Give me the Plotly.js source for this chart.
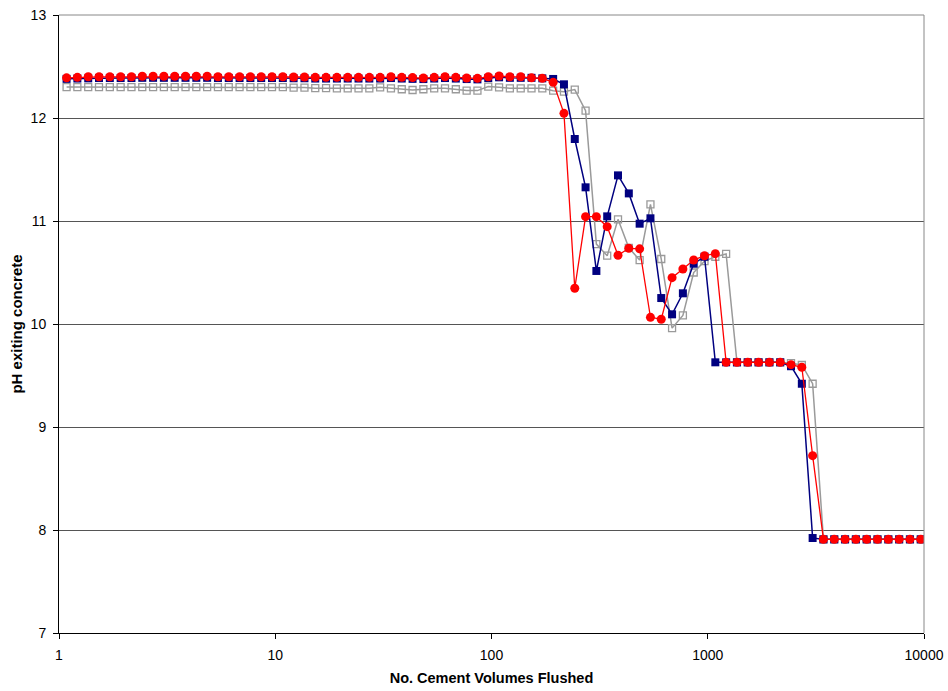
<!DOCTYPE html>
<html>
<head>
<meta charset="utf-8">
<script src="https://cdn.plot.ly/plotly-3.0.1.min.js"></script>
<style>html,body{margin:0;padding:0;background:#fff;}#chart{width:948px;height:691px;}</style>
</head>
<body>
<div id="chart"></div>
<script>
// Cement volumes flushed (x, log-spaced)
const volumes = [1.084,1.216,1.365,1.531,1.718,1.928,2.163,2.427,2.723,3.055,
  3.428,3.846,4.315,4.842,5.433,6.095,6.839,7.674,8.610,9.661,
  10.84,12.16,13.65,15.31,17.18,19.28,21.63,24.27,27.23,30.55,
  34.28,38.46,43.15,48.42,54.33,60.95,68.39,76.74,86.10,96.61,
  108.4,121.6,136.5,153.1,171.8,192.8,216.3,242.7,272.3,305.5,
  342.8,384.6,431.5,484.2,543.3,609.5,683.9,767.4,861.0,966.1,
  1084,1216,1365,1531,1718,1928,2163,2427,2723,3055,
  3428,3846,4315,4842,5433,6095,6839,7674,8610,9661];

// Series 1 (navy filled squares)
const phNavy = [12.38,12.383,12.385,12.388,12.388,12.388,12.388,12.39,12.39,12.39,
  12.39,12.39,12.39,12.39,12.388,12.388,12.388,12.388,12.388,12.388,
  12.388,12.386,12.386,12.383,12.383,12.383,12.383,12.383,12.383,12.383,
  12.388,12.383,12.38,12.378,12.383,12.388,12.383,12.378,12.375,12.388,
  12.395,12.39,12.39,12.39,12.385,12.379,12.327,11.796,11.327,10.515,
  11.045,11.443,11.268,10.974,11.026,10.252,10.094,10.298,10.585,10.653,
  9.628,9.628,9.628,9.628,9.628,9.628,9.628,9.59,9.42,7.922,
  7.909,7.909,7.909,7.909,7.909,7.909,7.909,7.909,7.909,7.909];

// Series 2 (red circles)
const phRed = [12.39,12.395,12.40,12.40,12.40,12.40,12.40,12.405,12.405,12.405,
  12.405,12.405,12.405,12.405,12.40,12.40,12.40,12.40,12.40,12.40,
  12.40,12.398,12.398,12.395,12.395,12.395,12.395,12.395,12.395,12.395,
  12.40,12.395,12.392,12.388,12.395,12.40,12.395,12.388,12.385,12.40,
  12.408,12.40,12.40,12.39,12.385,12.346,12.045,10.347,11.042,11.042,
  10.945,10.667,10.735,10.73,10.065,10.046,10.45,10.534,10.621,10.663,
  10.683,9.628,9.628,9.628,9.628,9.628,9.628,9.605,9.58,8.722,
  7.909,7.909,7.909,7.909,7.909,7.909,7.909,7.909,7.909,7.909];

// Series 3 (grey open squares)
const phGrey = [12.30,12.30,12.30,12.30,12.30,12.30,12.30,12.30,12.30,12.30,
  12.30,12.30,12.30,12.30,12.30,12.30,12.30,12.30,12.30,12.30,
  12.30,12.295,12.295,12.29,12.29,12.288,12.288,12.288,12.288,12.298,
  12.288,12.279,12.272,12.279,12.288,12.288,12.279,12.266,12.266,12.305,
  12.298,12.288,12.288,12.288,12.288,12.265,12.256,12.276,12.071,10.776,
  10.663,11.016,10.74,10.621,11.162,10.631,9.96,10.083,10.50,10.61,
  10.653,10.68,9.628,9.628,9.628,9.628,9.628,9.62,9.602,9.42,
  7.909,7.909,7.909,7.909,7.909,7.909,7.909,7.909,7.909,7.909];

const xTicks = [1, 10, 100, 1000, 10000];
const xTickText = ['1', '10', '100', '1000', '10000'];
const yTicks = [7, 8, 9, 10, 11, 12, 13];

const traces = [
  {x: volumes, y: phGrey, type: 'scatter', mode: 'lines+markers', name: 'Series 3',
   line: {color: '#9a9a9a', width: 1.5},
   marker: {symbol: 'square-open', size: 7, color: '#9a9a9a', line: {width: 1.3, color: '#9a9a9a'}}},
  {x: volumes, y: phNavy, type: 'scatter', mode: 'lines+markers', name: 'Series 1',
   line: {color: '#000080', width: 1.5},
   marker: {symbol: 'square', size: 8, color: '#000080'}},
  {x: volumes, y: phRed, type: 'scatter', mode: 'lines+markers', name: 'Series 2',
   line: {color: '#ff0000', width: 1.3},
   marker: {symbol: 'circle', size: 9, color: '#ff0000'}}
];

const layout = {
  width: 948, height: 691,
  margin: {l: 59, r: 24, t: 15, b: 58},
  paper_bgcolor: '#ffffff', plot_bgcolor: '#ffffff',
  showlegend: false,
  font: {family: 'Liberation Sans, Arial, sans-serif', color: '#000'},
  xaxis: {
    type: 'log', range: [0, 4],
    tickvals: xTicks, ticktext: xTickText,
    ticks: 'outside', ticklen: 5, tickcolor: '#000',
    ticklabelstandoff: 4,
    showline: true, linecolor: '#000', linewidth: 1,
    showgrid: false, zeroline: false,
    tickfont: {size: 14, family: 'Liberation Sans, Arial, sans-serif'},
    title: {text: 'No. Cement Volumes Flushed', standoff: 11,
            font: {size: 14.5, family: 'Liberation Sans, Arial, sans-serif', weight: 'bold'}}
  },
  yaxis: {
    range: [7, 13], tickvals: yTicks,
    ticks: 'outside', ticklen: 5, tickcolor: '#000',
    ticklabelstandoff: 4,
    showline: true, linecolor: '#000', linewidth: 1,
    showgrid: true, gridcolor: '#555555', gridwidth: 1,
    zeroline: false,
    tickfont: {size: 14, family: 'Liberation Sans, Arial, sans-serif'},
    title: {text: 'pH exiting concrete', standoff: 4,
            font: {size: 15, family: 'Liberation Sans, Arial, sans-serif', weight: 'bold'}}
  },
  shapes: [
    {type: 'line', xref: 'paper', yref: 'paper', x0: 0, x1: 1, y0: 1, y1: 1,
     line: {color: '#888888', width: 1}},
    {type: 'line', xref: 'paper', yref: 'paper', x0: 1, x1: 1, y0: 0, y1: 1,
     line: {color: '#888888', width: 1}}
  ]
};

Plotly.newPlot('chart', traces, layout, {displayModeBar: false, staticPlot: true});
</script>
</body>
</html>
